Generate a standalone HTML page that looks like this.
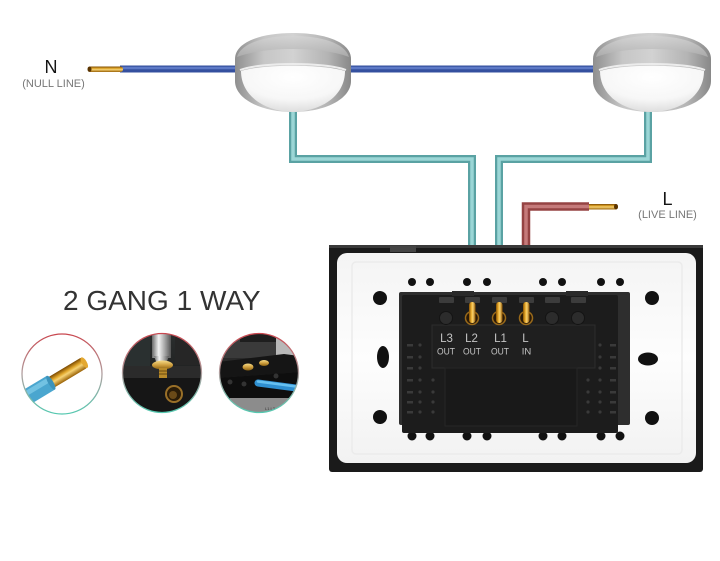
<!DOCTYPE html>
<html><head><meta charset="utf-8"><style>
html,body{margin:0;padding:0;background:#fff;}
svg{display:block;}
text{font-family:"Liberation Sans",sans-serif;}
</style></head><body>
<svg width="720" height="561" viewBox="0 0 720 561" xmlns="http://www.w3.org/2000/svg">
<defs>
  <linearGradient id="silver" x1="0" y1="0" x2="1" y2="0">
    <stop offset="0" stop-color="#8f8f8f"/>
    <stop offset="0.25" stop-color="#c6c6c6"/>
    <stop offset="0.5" stop-color="#d2d2d2"/>
    <stop offset="0.8" stop-color="#b4b4b4"/>
    <stop offset="1" stop-color="#888"/>
  </linearGradient>
  <linearGradient id="silverTop" x1="0" y1="0" x2="0" y2="1">
    <stop offset="0" stop-color="#d4d4d4"/>
    <stop offset="1" stop-color="#b0b0b0"/>
  </linearGradient>
  <radialGradient id="dome" cx="0.5" cy="0.25" r="0.8">
    <stop offset="0" stop-color="#ffffff"/>
    <stop offset="0.6" stop-color="#f7f7f7"/>
    <stop offset="1" stop-color="#d9d9d9"/>
  </radialGradient>
  <linearGradient id="copV" x1="0" y1="0" x2="0" y2="1">
    <stop offset="0" stop-color="#7a4800"/>
    <stop offset="0.35" stop-color="#e0a62a"/>
    <stop offset="0.55" stop-color="#f6d274"/>
    <stop offset="1" stop-color="#9a6206"/>
  </linearGradient>
  <linearGradient id="copH" x1="0" y1="0" x2="1" y2="0">
    <stop offset="0" stop-color="#8a5200"/>
    <stop offset="0.4" stop-color="#f2b838"/>
    <stop offset="0.6" stop-color="#f8d070"/>
    <stop offset="1" stop-color="#8a5200"/>
  </linearGradient>
  <linearGradient id="ring" x1="0" y1="0" x2="0" y2="1">
    <stop offset="0" stop-color="#c9474f"/>
    <stop offset="0.5" stop-color="#b0a0a0"/>
    <stop offset="1" stop-color="#55c8b0"/>
  </linearGradient>
  <linearGradient id="shaft" x1="0" y1="0" x2="1" y2="0">
    <stop offset="0" stop-color="#6a6a6a"/>
    <stop offset="0.35" stop-color="#f2f2f2"/>
    <stop offset="0.6" stop-color="#b8b8b8"/>
    <stop offset="1" stop-color="#555"/>
  </linearGradient>
  <linearGradient id="gold" x1="0" y1="0" x2="0" y2="1">
    <stop offset="0" stop-color="#f6dc88"/>
    <stop offset="0.5" stop-color="#d0a040"/>
    <stop offset="1" stop-color="#8a6010"/>
  </linearGradient>
  <linearGradient id="c2bg" x1="0" y1="0" x2="0" y2="1">
    <stop offset="0" stop-color="#2c2f2f"/>
    <stop offset="1" stop-color="#141414"/>
  </linearGradient>
  <linearGradient id="plate" x1="0" y1="0" x2="0" y2="1">
    <stop offset="0" stop-color="#f4f4f4"/>
    <stop offset="0.5" stop-color="#fdfdfd"/>
    <stop offset="1" stop-color="#f2f2f2"/>
  </linearGradient>
  <clipPath id="cl1"><circle cx="62" cy="374" r="40"/></clipPath>
  <clipPath id="cl2"><circle cx="162" cy="373" r="39.5"/></clipPath>
  <clipPath id="cl3"><circle cx="259" cy="373" r="39.5"/></clipPath>
</defs>

<rect width="720" height="561" fill="#fff"/>

<!-- Labels N / L -->
<text x="51" y="73" font-size="18" text-anchor="middle" fill="#151515">N</text>
<text x="53.5" y="87" font-size="11" text-anchor="middle" fill="#777">(NULL LINE)</text>
<text x="667.5" y="205" font-size="18" text-anchor="middle" fill="#151515">L</text>
<text x="667.5" y="218" font-size="11" text-anchor="middle" fill="#777">(LIVE LINE)</text>

<!-- Blue null wire -->
<line x1="120" y1="69" x2="652" y2="69" stroke="#34509f" stroke-width="7"/>
<line x1="120" y1="68" x2="652" y2="68" stroke="#5d79c6" stroke-width="2.5"/>
<rect x="88" y="66.5" width="35" height="5.5" rx="2.5" fill="url(#copV)"/>
<ellipse cx="89.5" cy="69.2" rx="2" ry="2.7" fill="#5a3400"/>

<!-- Teal wires -->
<polyline points="293,95 293,159 472,159 472,306" fill="none" stroke="#5aa2a3" stroke-width="8" stroke-linejoin="miter"/>
<polyline points="293,95 293,159 472,159 472,306" fill="none" stroke="#9bd6d6" stroke-width="3.5" stroke-linejoin="miter"/>
<polyline points="648,95 648,159 499,159 499,306" fill="none" stroke="#5aa2a3" stroke-width="8" stroke-linejoin="miter"/>
<polyline points="648,95 648,159 499,159 499,306" fill="none" stroke="#9bd6d6" stroke-width="3.5" stroke-linejoin="miter"/>

<!-- Red live wire -->
<rect x="586" y="204" width="32" height="5.5" rx="2.5" fill="url(#copV)"/>
<ellipse cx="616" cy="206.7" rx="2" ry="2.7" fill="#5a3400"/>
<polyline points="589,206.5 526,206.5 526,306" fill="none" stroke="#954343" stroke-width="8.5" stroke-linejoin="miter"/>
<polyline points="589,206.5 526,206.5 526,306" fill="none" stroke="#c57a7a" stroke-width="3.5" stroke-linejoin="miter"/>

<!-- Lamp 1 -->
<g transform="translate(293,33)">
  <path d="M-58,26 C-58,9 -32,0 0,0 C32,0 58,9 58,26 L58,48 C58,66 32,79 0,79 C-32,79 -58,66 -58,48 Z" fill="url(#silver)"/>
  <path d="M-56,24 C-52,10 -28,3 0,3 C28,3 52,10 56,24 C40,18 20,16 0,16 C-20,16 -40,18 -56,24 Z" fill="url(#silverTop)" opacity="0.8"/>
  <path d="M-53,37 C-32,29 32,29 53,37" fill="none" stroke="#ececec" stroke-width="2"/>
  <path d="M-52,38 C-30,31 30,31 52,38 C52,62 30,78 0,79 C-30,78 -52,62 -52,38 Z" fill="url(#dome)"/>
</g>
<!-- Lamp 2 -->
<g transform="translate(652,33)">
  <path d="M-59,26 C-59,9 -32,0 0,0 C32,0 59,9 59,26 L59,48 C59,66 32,79 0,79 C-32,79 -59,66 -59,48 Z" fill="url(#silver)"/>
  <path d="M-56,24 C-52,10 -28,3 0,3 C28,3 52,10 56,24 C40,18 20,16 0,16 C-20,16 -40,18 -56,24 Z" fill="url(#silverTop)" opacity="0.8"/>
  <path d="M-53,37 C-32,29 32,29 53,37" fill="none" stroke="#ececec" stroke-width="2"/>
  <path d="M-52,38 C-30,31 30,31 52,38 C52,62 30,78 0,79 C-30,78 -52,62 -52,38 Z" fill="url(#dome)"/>
</g>

<!-- Title -->
<text x="63" y="310" font-size="28" fill="#333">2 GANG 1 WAY</text>

<!-- Circle 1: stripped wire -->
<circle cx="62" cy="374" r="40" fill="#fff"/>
<g clip-path="url(#cl1)">
  <g transform="translate(62,376) rotate(-31)">
    <rect x="-14" y="-6" width="41" height="12" rx="3" fill="url(#copV)"/>
    <ellipse cx="26" cy="0" rx="2.5" ry="6" fill="#e4a830"/>
    <rect x="-52" y="-8" width="39" height="16" fill="#4aa6cf"/>
    <rect x="-52" y="-6" width="39" height="5" fill="#72c2e2"/>
    <ellipse cx="-13" cy="0" rx="2.5" ry="8" fill="#3c93bb"/>
  </g>
</g>
<circle cx="62" cy="374" r="40" fill="none" stroke="url(#ring)" stroke-width="1.3"/>

<!-- Circle 2: screwdriver -->
<g clip-path="url(#cl2)">
  <rect x="120" y="330" width="85" height="86" fill="url(#c2bg)"/>
  <rect x="120" y="330" width="30" height="36" fill="#2a3030"/>
  <rect x="175" y="335" width="30" height="30" fill="#262626"/>
  <rect x="120" y="366" width="85" height="12" fill="#2b2b2b"/>
  <rect x="120" y="378" width="85" height="40" fill="#161616"/>
  <rect x="152" y="330" width="19" height="28" fill="url(#shaft)"/>
  <path d="M154,356 L169,356 L166,364 L157,364 Z" fill="url(#shaft)"/>
  <ellipse cx="162.5" cy="365" rx="10.5" ry="4.5" fill="url(#gold)"/>
  <rect x="159" y="368" width="8" height="10" fill="#b88a2a"/>
  <line x1="159" y1="371" x2="167" y2="371" stroke="#6a4a10" stroke-width="1"/>
  <line x1="159" y1="374" x2="167" y2="374" stroke="#6a4a10" stroke-width="1"/>
  <circle cx="174" cy="394" r="8" fill="#2a1c08" stroke="#9a7028" stroke-width="2"/>
  <circle cx="173" cy="395" r="4" fill="#6a4a18"/>
</g>
<circle cx="162" cy="373" r="39.5" fill="none" stroke="url(#ring)" stroke-width="1.3"/>

<!-- Circle 3: wire inserted -->
<g clip-path="url(#cl3)">
  <rect x="218" y="330" width="84" height="86" fill="#2a2a2a"/>
  <rect x="218" y="330" width="84" height="28" fill="#3a3a3a"/>
  <rect x="240" y="334" width="36" height="8" fill="#1e1e1e"/>
  <rect x="276" y="338" width="26" height="26" fill="#b8b8b8"/>
  <path d="M218,362 L284,354 L300,356 L300,372 L218,378 Z" fill="#151515"/>
  <path d="M218,378 L300,372 L300,398 L218,402 Z" fill="#0e0e0e"/>
  <rect x="230" y="398" width="72" height="20" fill="#8c8c8c"/>
  <text x="265" y="410" font-size="4" fill="#333">L1  L2</text>
  <ellipse cx="248" cy="367" rx="5.5" ry="3.5" fill="url(#gold)"/>
  <ellipse cx="264" cy="363" rx="5" ry="3" fill="url(#gold)"/>
  <circle cx="230" cy="382" r="2.5" fill="#333"/>
  <circle cx="244" cy="384" r="2.5" fill="#333"/>
  <circle cx="276" cy="376" r="2.5" fill="#333"/>
  <line x1="258" y1="383" x2="304" y2="389" stroke="#2f8fd0" stroke-width="7" stroke-linecap="round"/>
  <line x1="258" y1="381.5" x2="304" y2="387.5" stroke="#66c0f0" stroke-width="2.5" stroke-linecap="round"/>
</g>
<circle cx="259" cy="373" r="39.5" fill="none" stroke="url(#ring)" stroke-width="1.3"/>

<!-- Switch plate -->
<rect x="329" y="245" width="374" height="227" rx="3" fill="#1a1a1a"/>
<rect x="329" y="245" width="374" height="3" fill="#3a3a3a"/>
<rect x="390" y="246" width="26" height="6" fill="#444"/>
<rect x="337" y="253" width="359" height="210" rx="10" fill="url(#plate)"/>
<rect x="352" y="262" width="330" height="192" rx="4" fill="none" stroke="#ebebeb" stroke-width="1.5"/>

<!-- holes top row -->
<g fill="#111">
  <circle cx="412" cy="282" r="4"/><circle cx="430" cy="282" r="4"/>
  <circle cx="467" cy="282" r="4"/><circle cx="487" cy="282" r="4"/>
  <circle cx="543" cy="282" r="4"/><circle cx="562" cy="282" r="4"/>
  <circle cx="601" cy="282" r="4"/><circle cx="620" cy="282" r="4"/>
  <circle cx="380" cy="298" r="7"/><circle cx="652" cy="298" r="7"/>
  <circle cx="380" cy="417" r="7"/><circle cx="652" cy="418" r="7"/>
  <ellipse cx="383" cy="357" rx="6" ry="11"/>
  <ellipse cx="648" cy="359" rx="10" ry="6.5"/>
  <circle cx="412" cy="436" r="4.5"/><circle cx="430" cy="436" r="4.5"/>
  <circle cx="467" cy="436" r="4.5"/><circle cx="487" cy="436" r="4.5"/>
  <circle cx="543" cy="436" r="4.5"/><circle cx="562" cy="436" r="4.5"/>
  <circle cx="601" cy="436" r="4.5"/><circle cx="620" cy="436" r="4.5"/>
</g>

<!-- Module backing and block -->
<rect x="399" y="292" width="231" height="133" rx="2" fill="#2e2e2e"/>
<rect x="402" y="295" width="216" height="138" rx="2" fill="#1c1c1c"/>
<rect x="452" y="291" width="22" height="5" fill="#2a2a2a"/>
<rect x="566" y="291" width="22" height="5" fill="#2a2a2a"/>
<rect x="432" y="325" width="163" height="43" fill="#1f1f1f" stroke="#2c2c2c" stroke-width="1"/>
<rect x="445" y="368" width="132" height="58" fill="#191919" stroke="#262626" stroke-width="1"/>

<!-- side dots -->
<g fill="#3a3a3a">
  <rect x="407" y="344" width="6" height="2.5"/><rect x="407" y="356" width="6" height="2.5"/>
  <rect x="407" y="367" width="6" height="2.5"/><rect x="407" y="379" width="6" height="2.5"/>
  <rect x="407" y="391" width="6" height="2.5"/><rect x="407" y="401" width="6" height="2.5"/>
  <rect x="407" y="411" width="6" height="2.5"/>
  <circle cx="420" cy="345" r="1.6"/><circle cx="420" cy="357" r="1.6"/><circle cx="420" cy="368" r="1.6"/>
  <circle cx="420" cy="380" r="1.6"/><circle cx="420" cy="392" r="1.6"/><circle cx="420" cy="402" r="1.6"/>
  <circle cx="420" cy="412" r="1.6"/>
  <circle cx="433" cy="380" r="1.6"/><circle cx="433" cy="392" r="1.6"/><circle cx="433" cy="402" r="1.6"/>
  <circle cx="433" cy="412" r="1.6"/>
  <rect x="610" y="344" width="6" height="2.5"/><rect x="610" y="356" width="6" height="2.5"/>
  <rect x="610" y="367" width="6" height="2.5"/><rect x="610" y="379" width="6" height="2.5"/>
  <rect x="610" y="391" width="6" height="2.5"/><rect x="610" y="401" width="6" height="2.5"/>
  <rect x="610" y="411" width="6" height="2.5"/>
  <circle cx="600" cy="345" r="1.6"/><circle cx="600" cy="357" r="1.6"/><circle cx="600" cy="368" r="1.6"/>
  <circle cx="600" cy="380" r="1.6"/><circle cx="600" cy="392" r="1.6"/><circle cx="600" cy="402" r="1.6"/>
  <circle cx="600" cy="412" r="1.6"/>
  <circle cx="588" cy="380" r="1.6"/><circle cx="588" cy="392" r="1.6"/><circle cx="588" cy="402" r="1.6"/>
  <circle cx="588" cy="412" r="1.6"/>
</g>

<!-- terminal caps -->
<g fill="#3c3c3c">
  <rect x="439" y="297" width="15" height="6" rx="1"/>
  <rect x="465" y="297" width="15" height="6" rx="1"/>
  <rect x="492" y="297" width="15" height="6" rx="1"/>
  <rect x="519" y="297" width="15" height="6" rx="1"/>
  <rect x="545" y="297" width="15" height="6" rx="1"/>
  <rect x="571" y="297" width="15" height="6" rx="1"/>
</g>
<!-- screws -->
<g>
  <circle cx="446" cy="318" r="6.5" fill="#2c2c2c" stroke="#141414"/>
  <circle cx="552" cy="318" r="6.5" fill="#2c2c2c" stroke="#141414"/>
  <circle cx="578" cy="318" r="6.5" fill="#2c2c2c" stroke="#141414"/>
  <circle cx="472" cy="318" r="6.5" fill="#2a1a08" stroke="#9a6a1a" stroke-width="1.5"/>
  <circle cx="499" cy="318" r="6.5" fill="#2a1a08" stroke="#9a6a1a" stroke-width="1.5"/>
  <circle cx="526" cy="318" r="6.5" fill="#2a1a08" stroke="#9a6a1a" stroke-width="1.5"/>
</g>
<!-- copper tips into terminals -->
<rect x="469" y="302" width="6.5" height="21" rx="3" fill="url(#copH)"/>
<rect x="496" y="302" width="6.5" height="21" rx="3" fill="url(#copH)"/>
<rect x="523" y="302" width="6.5" height="21" rx="3" fill="url(#copH)"/>

<!-- terminal labels -->
<g fill="#c4c4c4" text-anchor="middle">
  <text x="446.5" y="342" font-size="11.5">L3</text>
  <text x="471.5" y="342" font-size="11.5">L2</text>
  <text x="500.5" y="342" font-size="11.5">L1</text>
  <text x="525.5" y="342" font-size="11.5">L</text>
  <text x="446" y="354.5" font-size="9.5" textLength="18" lengthAdjust="spacingAndGlyphs">OUT</text>
  <text x="472" y="354.5" font-size="9.5" textLength="18" lengthAdjust="spacingAndGlyphs">OUT</text>
  <text x="500" y="354.5" font-size="9.5" textLength="18" lengthAdjust="spacingAndGlyphs">OUT</text>
  <text x="526.5" y="354.5" font-size="9.5">IN</text>
</g>
</svg>
</body></html>
